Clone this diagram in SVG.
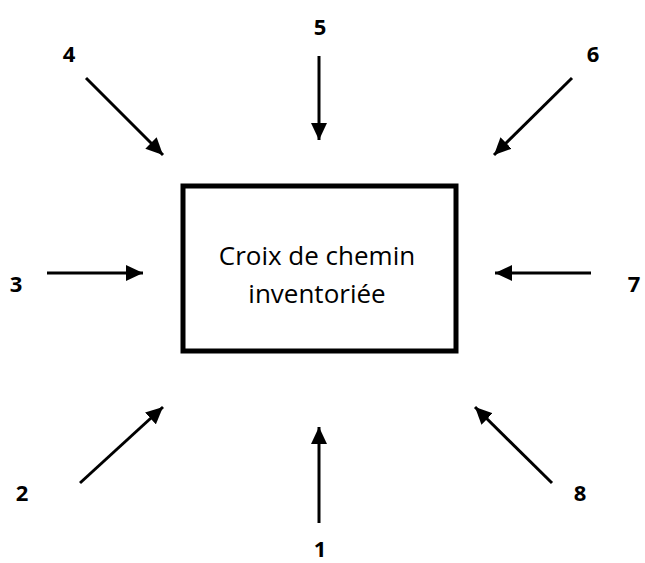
<svg xmlns="http://www.w3.org/2000/svg" width="645" height="563" viewBox="0 0 645 563">
<style>
.lbl{font-family:"Open Sans","DejaVu Sans",sans-serif;font-size:22px;font-weight:700;fill:#000;text-anchor:middle}
.txt{font-family:"Open Sans","DejaVu Sans",sans-serif;font-size:26px;fill:#000;text-anchor:middle}
.arr{stroke:#000;stroke-width:3;fill:none;marker-end:url(#ah)}
</style>
<defs>
<marker id="ah" markerUnits="userSpaceOnUse" markerWidth="18" markerHeight="16" refX="17" refY="8" orient="auto">
<path d="M0,0 L17,8 L0,16 Z" fill="#000"/>
</marker>
</defs>
<rect width="645" height="563" fill="#fff"/>
<g id="center">
<rect x="183" y="186" width="273" height="165" fill="#fff" stroke="#000" stroke-width="5"/>
<text class="txt" x="317" y="265">Croix de chemin</text>
<text class="txt" x="317" y="303">inventoriée</text>
</g>
<g id="connectors">
<line class="arr" x1="319" y1="523" x2="319" y2="427"/>
<line class="arr" x1="80" y1="483" x2="163" y2="407"/>
<line class="arr" x1="47" y1="273" x2="143" y2="273"/>
<line class="arr" x1="86" y1="78" x2="163" y2="155"/>
<line class="arr" x1="319" y1="56" x2="319" y2="140"/>
<line class="arr" x1="572" y1="78" x2="494" y2="155"/>
<line class="arr" x1="591" y1="273" x2="495" y2="273"/>
<line class="arr" x1="552" y1="483" x2="475" y2="407"/>
</g>
<g id="n1"><text class="lbl" x="320" y="557">1</text></g>
<g id="n2"><text class="lbl" x="22" y="501">2</text></g>
<g id="n3"><text class="lbl" x="16" y="292">3</text></g>
<g id="n4"><text class="lbl" x="69" y="62">4</text></g>
<g id="n5"><text class="lbl" x="320" y="35">5</text></g>
<g id="n6"><text class="lbl" x="593" y="62">6</text></g>
<g id="n7"><text class="lbl" x="634" y="292">7</text></g>
<g id="n8"><text class="lbl" x="580" y="501">8</text></g>
</svg>
